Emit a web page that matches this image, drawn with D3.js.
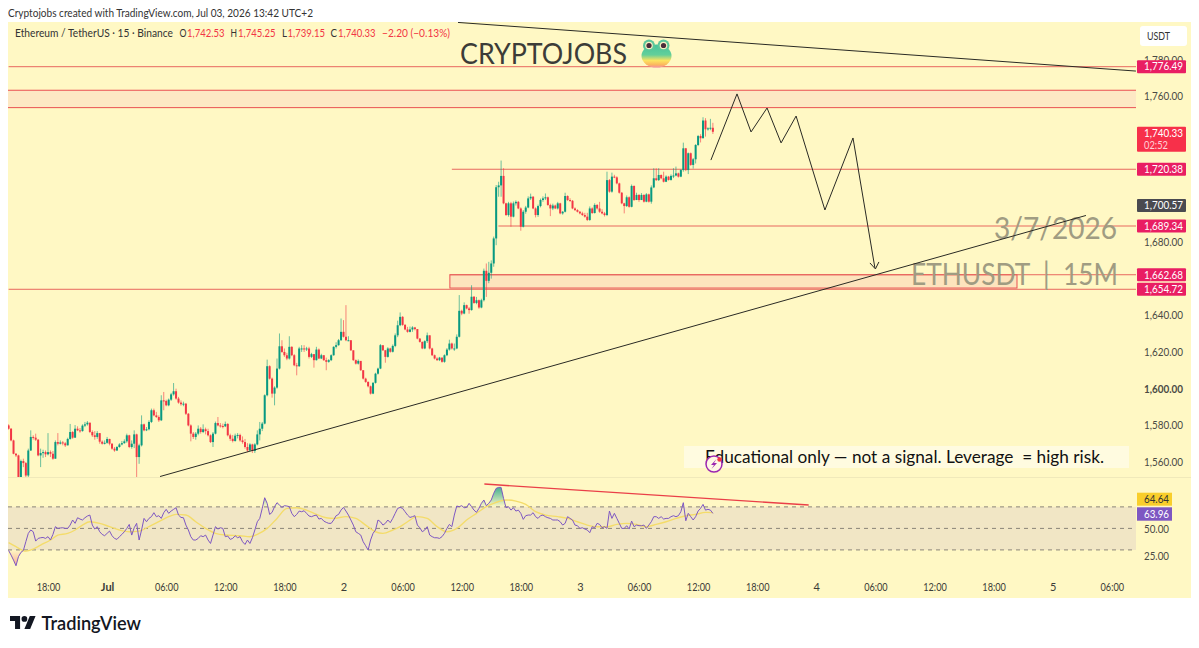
<!DOCTYPE html>
<html>
<head>
<meta charset="utf-8">
<style>
html,body{margin:0;padding:0;background:#fff;}
svg{display:block;}
text{font-family:Lato,"Open Sans",sans-serif;}
</style>
<script src="https://cdn.jsdelivr.net/npm/d3@7"></script>
</head>
<body>
<svg id="chart" width="1199" height="648"></svg>
<script>
// ETH/USDT 15-minute bars; each bar opens at the previous close.
const firstOpen = 1579.7;
const closes = [
1577.9,1571.5,1564.2,1563.3,1551.4,1560.2,1559.1,1552.3,1566,1573.4,
1573,1571.9,1563.3,1564.6,1565.1,1563.9,1565.1,1564.2,1561.5,1570.6,
1569.7,1570.4,1569.9,1568.8,1572.3,1576.1,1573,1577.9,1577,1576.6,
1579.6,1580.3,1581.2,1576.1,1574.3,1573.4,1575.5,1570.8,1569.7,1570.2,
1572.3,1569.7,1567,1566,1567.9,1569.3,1570,1571,1574.3,1567.9,
1569.7,1574.8,1562.4,1568.8,1580.3,1577,1577.6,1581.6,1588,1585.2,
1584.3,1582.5,1593.4,1593.1,1590.7,1593.8,1596.7,1598.4,1594.4,1592.2,
1591.3,1591.6,1586.1,1579.7,1575.2,1573.4,1575.2,1577.9,1576.1,1577.6,
1576.6,1574.3,1570.6,1575.2,1581,1579.7,1579.4,1579.2,1580.5,1574.3,
1572.4,1571.2,1574.1,1574.5,1571.5,1570.6,1567.9,1566,1569.3,1565.7,
1569.3,1574.8,1577.9,1580.7,1596.2,1612.1,1605.3,1597.1,1600.4,1610.8,
1623,1619.9,1618.1,1616.3,1622.7,1618.1,1612.6,1612.1,1621.8,1621.8,
1621.4,1621.8,1617.2,1618.7,1615.4,1621.2,1616.3,1618.1,1615.4,1614.5,
1615.4,1618.1,1622.7,1623.6,1626.3,1630.9,1628.2,1626.3,1626.3,1620.8,
1615.4,1613.5,1615,1609.9,1605.3,1603.5,1601.1,1597.1,1603,1608,
1610.8,1623.6,1620.8,1617.2,1621.8,1620,1623.2,1629,1634.5,1639.1,
1634.7,1632.2,1630.9,1632.2,1633.3,1632.4,1627.2,1625.4,1621.8,1625.8,
1629,1621.8,1618.1,1616.3,1615.4,1616.8,1614.5,1618.1,1621.2,1624.5,
1621.8,1621.8,1628.2,1642.4,1640.9,1645.5,1643.7,1642.8,1650.1,1646.7,
1648.2,1644.2,1648.2,1664.3,1658.8,1663.2,1668.3,1682,1710,1711,
1716.2,1701.2,1694.8,1701.2,1693.9,1701.2,1702,1698.4,1688.4,1696.6,
1698.9,1703.9,1704.8,1698.4,1694.8,1699.7,1703,1703.9,1704.5,1700.3,
1698.4,1700,1698.4,1701.2,1695.7,1696.6,1705.2,1703,1702.6,1698.4,
1697.5,1696.6,1695.7,1694.8,1693.9,1692.1,1698.4,1695.9,1700.3,1698.4,
1696.6,1695.7,1694.8,1713.9,1707.6,1715.8,1715.4,1712.1,1707,1701.2,
1699.7,1704.5,1699.3,1710.7,1703,1705.8,1703,1705.8,1702.1,1706.1,
1702.1,1709.9,1714.9,1713.9,1716.7,1714.9,1713,1715.8,1714,1716.2,
1716.4,1717.6,1715.8,1719.4,1731.3,1719.4,1728.6,1722.2,1725.3,1733.1,
1738,1736.8,1746.5,1741.7,1742.2,1742.53,1740.33];
const highs = [
1580.3,1578.3,1571.9,1564.6,1563.7,1561,1561.5,1559.7,1567,1577,
1574.3,1575.2,1572.3,1567,1566.4,1566,1575.5,1566,1565.7,1571.5,
1575.5,1571.5,1571.2,1570.6,1573,1580.5,1576.6,1579.9,1579.2,1578.3,
1580.3,1581.6,1582.1,1581.2,1577,1576.6,1576.6,1575.5,1571.5,1571.5,
1573.4,1572.4,1570,1567.9,1568.4,1570,1571.2,1572.1,1575.2,1574.6,
1571.5,1577,1575.2,1569.7,1585.2,1580.7,1578.8,1582.5,1588.9,1588.9,
1587.1,1585.2,1596.2,1598,1593.8,1594.4,1597.5,1602.9,1599.8,1595.3,
1593.4,1592.7,1592,1586.5,1580.3,1576.1,1576.1,1579.7,1578.8,1580.3,
1578.5,1577.9,1574.8,1576.1,1581.8,1584.3,1581,1580.7,1581.8,1581,
1575.2,1574.5,1575.2,1575.5,1575.2,1573.7,1572.3,1570,1570,1569.7,
1570,1577,1581.6,1581.6,1596.7,1615.7,1612.6,1605.9,1601.1,1616.3,
1630,1626.3,1621.8,1619.4,1628.5,1623,1618.7,1613.9,1622.7,1623.6,
1623.6,1622.7,1622.7,1619.4,1618.7,1622.7,1621.8,1618.9,1618.1,1616.8,
1616,1618.6,1623,1625.2,1627,1638.2,1637.3,1645.5,1628.5,1626.3,
1620.8,1615.8,1615.8,1614,1610,1605.8,1603.8,1601.5,1603.4,1608.5,
1611.3,1624.2,1623,1621,1622.5,1622.2,1624,1630,1637,1641.5,
1639.5,1635.2,1633.6,1633.8,1634,1633.6,1632.4,1627.5,1625.6,1626.3,
1630.5,1629,1622.2,1618.5,1617,1617.2,1616.8,1618.6,1622,1626.6,
1625,1624.5,1629.5,1651,1643,1647,1645.8,1644.5,1656.4,1650.5,
1650,1648.6,1649,1665.5,1668.3,1669.2,1670,1683,1711.2,1713,
1724.6,1720.4,1701.5,1702,1702,1702.2,1702.8,1702.5,1699,1697.5,
1699.8,1705,1706.5,1705.2,1699,1700.5,1703.8,1705,1706.6,1704.9,
1701,1701,1700.5,1702,1701.5,1697,1707,1705.6,1704,1703,
1699,1698,1697,1696.6,1696,1696,1699.5,1699,1701.2,1700.8,
1702,1698,1696.5,1718.5,1714.5,1718,1716.8,1716,1712.5,1707.4,
1701.5,1705.5,1705,1711.5,1711,1707,1706.2,1706.8,1706.1,1706.8,
1706.5,1711,1720.4,1720.4,1720.4,1717,1718.5,1716.5,1716.2,1717,
1720.4,1721.3,1718,1719.8,1734.4,1731.5,1729,1729,1726,1733.6,
1738.6,1739,1748.3,1747.8,1742.8,1747.4,1745.25];
const lows = [
1577.4,1571,1563.9,1562.4,1549.6,1550.5,1556.9,1549.6,1551.4,1565.7,
1571.9,1571.2,1562.8,1556.9,1562,1562.4,1563.3,1562.4,1560.9,1561.5,
1568.8,1569.3,1568.8,1567.9,1568.8,1571.9,1572.4,1573,1576.6,1575.7,
1576.3,1578.8,1579.6,1575.5,1573.4,1571.9,1572.4,1569.7,1569.2,1569.3,
1569.7,1568.8,1566.4,1565.3,1565.7,1567.5,1568.8,1569.7,1570.2,1567.3,
1567,1567.3,1551.1,1558.7,1568.2,1576.5,1576.6,1577,1581,1584.7,
1583.8,1581.6,1582.1,1588,1590.2,1590.2,1593.1,1596,1593.8,1591.6,
1590.5,1590.2,1585.4,1579.2,1571,1572.3,1571.9,1574.3,1575.2,1575.5,
1574.8,1573.7,1570.1,1567.9,1574.8,1579.2,1578.5,1578.1,1578.8,1573.7,
1571.2,1570.4,1570.8,1572.6,1570.8,1569.7,1567,1565.1,1565.7,1564.6,
1564.6,1568.8,1571.5,1576.6,1580.3,1595.6,1604.8,1594.9,1590.7,1599.8,
1610.3,1619.4,1617.2,1615.4,1615.7,1617.6,1612.1,1607.1,1611.7,1619.9,
1619.9,1620.4,1616.3,1616.6,1611.3,1615.2,1616,1616,1615,1609.9,
1614,1614.9,1617.8,1621.8,1623.3,1626,1627.8,1625.8,1625.8,1620.4,
1615,1613,1613,1609.5,1604.8,1603,1600.5,1596.6,1596.8,1602.6,
1607.5,1610.5,1620.4,1614,1616.8,1619.5,1619.6,1622.5,1628,1634,
1634.2,1631.8,1630.4,1630.6,1630.9,1631.7,1626.8,1625,1621.4,1621.4,
1624.8,1621.3,1617.7,1615.8,1615,1614.9,1614,1614,1617.6,1620.6,
1621.2,1620.5,1621.4,1627.8,1640,1640.5,1643.2,1640.8,1642.5,1646.2,
1646,1643.5,1643.8,1647.5,1650,1657.5,1660,1666.5,1678.3,1704.8,
1704.8,1700.7,1694.3,1693.9,1688.4,1693.5,1700,1698,1686.2,1688,
1695.5,1698.5,1703,1698,1693.5,1693.8,1699,1702,1703,1699.8,
1694.2,1697.5,1698,1697.8,1695.2,1695,1696.2,1702.5,1702,1698,
1697,1696.2,1695.2,1694.3,1693.4,1691.5,1691.6,1695.4,1695.6,1697.8,
1696,1695.2,1694,1694.2,1707,1707,1715,1711.6,1706.5,1700.7,
1695.7,1699.2,1698.8,1699,1702.5,1703,1702,1703,1701.6,1701.8,
1701.6,1701,1709.5,1713.4,1713.4,1714.4,1712.6,1712.8,1713.6,1713.6,
1715,1716,1715.3,1715.5,1718.5,1718.8,1717.2,1721.7,1720.2,1723,
1732.5,1734.5,1736.8,1737.7,1741,1741.2,1739.15];

// RSI (14) per bar
const rsi = [
29.5,25.2,20.5,15.3,23.7,27.7,29.5,37.6,45.4,48.5,
46.9,38.2,40.7,41.3,41.6,40.7,42.3,39.2,44.4,51.6,
50,50.4,50.6,50,50,53.1,57.8,54.7,59.9,58.7,
57.8,59.9,61.5,62.4,53.1,49.4,51.6,46.9,44.4,43.2,
45.4,47.5,43.2,40.7,39.8,42.3,44.4,46.9,50,53.7,
43.8,50.6,54.7,39.2,48.5,59.3,56.2,59.3,60.9,64.6,
60.9,61.8,59.3,64.6,67.7,64,66.1,67.7,69.2,62.4,
60.2,59.9,53.1,48.5,42.3,39.2,39.2,40.7,43.2,42.3,
43.8,39.2,36,43.8,51.6,49.4,50.6,50,42.3,42.9,
39.8,40.7,43.2,41.3,42.3,37.6,35.1,39.2,36,41.3,
48.5,56.2,59.3,68.6,78.5,73.3,63,64.9,70.2,73.9,
71.7,69.5,71.1,70.8,70.2,64,60.9,63,66.1,65.5,
66.4,64,61.5,60.9,61.8,62.4,58.7,59.3,56.8,55.6,
54.7,54.7,57.8,61.8,63,67,69.5,66.1,62.4,57.8,
53.1,46.9,45.4,43.8,37.6,33.9,29.9,39.2,45.4,48.5,
57.8,56.2,53.1,54.7,57.8,55.3,59.3,64,68.6,
69.5,68.6,65.5,62.4,60.2,60.9,61.8,53.1,50.6,46.9,
48.5,51.6,43.8,42.3,41.3,41.3,40.7,42.3,45.4,50,
53.7,51.6,62.4,70.8,70.2,71.1,69.2,69.5,73.3,70.2,
67,64.9,68.6,73.3,76.4,71.1,73.3,76.4,82.6,87.2,
88.1,88.1,77.9,69.2,70.2,67,69.2,66.1,67,64,
58.4,61.8,62.4,62.4,64.6,60.9,59.3,61.8,62.4,60.9,
59.9,59.3,57.8,57.8,57.8,56.2,53.1,54.7,60.9,59.3,
57.8,53.1,52.5,50,50.6,49.4,48.5,46,51.6,50.6,
54.7,53.7,50.6,51.6,50,66.1,59.3,64,59.3,54.7,
50,50,52.5,49.4,56.8,51.6,53.1,52.5,52.5,53.1,
50,53.1,56.2,60.9,60.9,59.3,60.9,58.7,59.3,59.3,
60.9,61.8,60.9,61.8,65.5,73.9,57.1,64,60.9,57.8,
60.9,66.1,68.6,72.3,67,67.7,67,63.96];

// RSI moving average, sampled at these bars
const rsiMaBars = [0,3,7,10,13,17,20,24,27,30,33,37,41,45,49,53,57,61,65,68,72,76,80,84,88,94,98,101,105,109,113,117,121,125,129,132,137,141,145,149,152,156,159,162,166,170,174,178,182,186,190,194,198,202,206,210,214,218,223,227,231,235,239,243,247,251,255,259,263,267,271,275,279,283,286];
const rsiMa = [36.7,33,28.9,30.8,34.5,39.2,43.8,45.4,48.5,53.1,56.2,54.7,51.6,48.5,46.9,47.5,51.6,56.2,60.9,63,62.4,56.2,50,45.4,43.8,43.2,42.3,44.4,50,59.3,68.6,69.2,67,63,59.9,59.3,60.9,59.3,53.1,46.9,45.4,48.5,51.6,56.2,60.9,59.3,51.6,46.9,50,57.8,64,70.2,74.2,76.4,75.4,72.3,65.5,62.4,60.9,59.3,56.2,53.1,51.6,51.6,53.7,54.7,53.7,51.6,53.7,56.2,59.3,61.8,63,64.9,64.64];

// Axis contents: a time label every 24 bars, starting at bar 16
const timeLabels = ["18:00","Jul","06:00","12:00","18:00","2","06:00","12:00","18:00","3","06:00","12:00","18:00","4","06:00","12:00","18:00","5","06:00"];
const timeTickBars = timeLabels.map((_, k) => 16 + 24 * k);
const priceTicks = [1780,1760,1680,1640,1620,1600,1580,1560];
const rsiTicks = [50,25];

// Legend contents
const legendKeys = ["O","H","L","C"];
const legendValues = ["1,742.53","1,745.25","1,739.15","1,740.33"];
const legendKeyX = [179.5,230.5,282,330.5];
const legendKeyW = [7,6.5,5,6.5];
const legendValueX = [187,238,287.5,338];

// Price-level annotations
const levelPrices = [1776.49,1720.38,1689.34,1662.68,1654.72];
const levelStartBars = [0,180,198.9,179.2,0];
const zoneTop = 1763.6, zoneBottom = 1754.1;
const boxTop = 1662.68, boxBottom = 1655.4, boxStartBar = 179.2, boxEndBar = 409.5;
const currentPrice = 1740.33, countdown = "02:52", darkPrice = 1700.57;
const rsiLastValue = 63.96, rsiLastMa = 64.64;

// Hand-drawn lines, as [bar, price] pairs
const projBars   = [285.2,295.8,301.5,308,313.7,319.8,331.5,342.9,351.8];
const projPrices = [1725.4,1761.6,1740.8,1753.9,1734.8,1749.5,1698.1,1737.5,1666.4];
const resistanceBars = [182.5,457.8], resistancePrices = [1800.7,1774.1];
const supportBars = [61.5,437.5], supportPrices = [1552.3,1695.1];
const rsiDivBars = [193.2,324.9], rsiDivValues = [91.2,71.7];

const UP = "#089981", DOWN = "#f23645", PINK = "#e91e63", PANEL = "#fff8c4";
const plot = {l: 8, r: 1136, t: 22, mainB: 477, rsiB: 574};

const svg = d3.select("#chart");
const fmt = d3.format(",.2f");
const x = d3.scaleLinear().domain([0, 100]).range([8.6, 8.6 + 246.25]);
const y = d3.scaleLinear().domain([1560, 1760]).range([462.44, 96.84]);
const yRsi = d3.scaleLinear().domain([25, 50]).range([555.3, 528.4]);

const defs = svg.append("defs");
defs.append("clipPath").attr("id", "mainClip").append("rect")
  .attr("x", plot.l).attr("y", plot.t).attr("width", plot.r - plot.l).attr("height", plot.mainB - plot.t);
defs.append("clipPath").attr("id", "rsiClip").append("rect")
  .attr("x", plot.l).attr("y", plot.mainB).attr("width", plot.r - plot.l).attr("height", plot.rsiB - plot.mainB);
defs.append("clipPath").attr("id", "overClip").append("rect")
  .attr("x", plot.l).attr("y", plot.mainB).attr("width", plot.r - plot.l).attr("height", yRsi(70) - plot.mainB);
defs.append("clipPath").attr("id", "underClip").append("rect")
  .attr("x", plot.l).attr("y", yRsi(30)).attr("width", plot.r - plot.l).attr("height", plot.rsiB - yRsi(30));
const gOver = defs.append("linearGradient").attr("id", "overFill").attr("gradientUnits", "userSpaceOnUse")
  .attr("x1", 0).attr("x2", 0).attr("y1", yRsi(88)).attr("y2", yRsi(70));
gOver.append("stop").attr("offset", "0%").attr("stop-color", "#089981").attr("stop-opacity", 0.75);
gOver.append("stop").attr("offset", "100%").attr("stop-color", "#089981").attr("stop-opacity", 0);
const gUnder = defs.append("linearGradient").attr("id", "underFill").attr("gradientUnits", "userSpaceOnUse")
  .attr("x1", 0).attr("x2", 0).attr("y1", yRsi(30)).attr("y2", yRsi(15));
gUnder.append("stop").attr("offset", "0%").attr("stop-color", "#f23645").attr("stop-opacity", 0);
gUnder.append("stop").attr("offset", "100%").attr("stop-color", "#f23645").attr("stop-opacity", 0.4);
const gFrog = defs.append("linearGradient").attr("id", "frogFill").attr("x1", 0).attr("x2", 0).attr("y1", 0).attr("y2", 1);
[["0%", "#45c49c"], ["45%", "#63cf9a"], ["70%", "#fde35e"], ["88%", "#fbb65f"], ["100%", "#f58fa0"]]
  .forEach(([o, c]) => gFrog.append("stop").attr("offset", o).attr("stop-color", c));

// Squeezes a label into the width its slot allows
const fit = (sel, w) => sel.attr("textLength", w).attr("lengthAdjust", "spacingAndGlyphs");

// Page and panel
svg.append("rect").attr("width", 1199).attr("height", 648).attr("fill", "#fff");
svg.append("rect").attr("x", 8).attr("y", 22).attr("width", 1183).attr("height", 576).attr("fill", PANEL);
fit(svg.append("text").attr("x", 8).attr("y", 17).attr("font-size", 11.5).attr("fill", "#333")
  .text("Cryptojobs created with TradingView.com, Jul 03, 2026 13:42 UTC+2"), 305);
svg.append("line").attr("x1", 8).attr("x2", 1191).attr("y1", 477.5).attr("y2", 477.5).attr("stroke", "#f0e9ba");

// Main pane
const main = svg.append("g").attr("clip-path", "url(#mainClip)");

main.append("rect").attr("x", plot.l).attr("width", plot.r - plot.l)
  .attr("y", y(zoneTop)).attr("height", y(zoneBottom) - y(zoneTop))
  .attr("fill", "#fde8c4");
main.selectAll("line.zone").data([zoneTop, zoneBottom]).join("line").attr("class", "zone")
  .attr("x1", plot.l).attr("x2", plot.r).attr("y1", d => y(d)).attr("y2", d => y(d))
  .attr("stroke", "#ea4f52").attr("stroke-width", 1);

main.append("rect").attr("x", x(boxStartBar)).attr("width", x(boxEndBar) - x(boxStartBar))
  .attr("y", y(boxTop)).attr("height", y(boxBottom) - y(boxTop))
  .attr("fill", "#fde4bd").attr("stroke", "#ea4f52").attr("stroke-width", 1);

main.selectAll("line.level").data(levelPrices).join("line").attr("class", "level")
  .attr("x1", (d, i) => x(levelStartBars[i])).attr("x2", plot.r)
  .attr("y1", d => y(d)).attr("y2", d => y(d))
  .attr("stroke", "#e8685f").attr("stroke-width", 1);

// Watermark text
fit(main.append("text").attr("x", 994).attr("y", 238.5)
  .attr("font-size", 31).attr("fill", "#a09c82").text("3/7/2026"), 123);
fit(main.append("text").attr("x", 911).attr("y", 284.5).attr("font-size", 31).attr("fill", "#a09c82")
  .attr("xml:space", "preserve").style("white-space", "pre").text("ETHUSDT  |  15M"), 207);

// Candles
const bars = closes.map((c, i) => ({i, o: i ? closes[i - 1] : firstOpen, c, h: highs[i], l: lows[i]}));
const candle = main.append("g").attr("transform", "translate(0,-1)")
  .selectAll("g.bar").data(bars).join("g").attr("class", "bar");
candle.append("line")
  .attr("x1", d => x(d.i)).attr("x2", d => x(d.i))
  .attr("y1", d => y(d.h)).attr("y2", d => y(d.l))
  .attr("stroke", d => d.c >= d.o ? UP : DOWN).attr("stroke-width", 0.8).attr("stroke-opacity", 0.75);
candle.append("rect")
  .attr("x", d => x(d.i) - 1).attr("width", 2)
  .attr("y", d => y(Math.max(d.o, d.c)))
  .attr("height", d => Math.max(1, Math.abs(y(d.o) - y(d.c))))
  .attr("fill", d => d.c >= d.o ? UP : DOWN);

// Trend lines and the projected route
const priceLine = d3.line().x(d => x(d[0])).y(d => y(d[1]));
const pairs = (a, b) => a.map((v, i) => [v, b[i]]);
[pairs(resistanceBars, resistancePrices), pairs(supportBars, supportPrices), pairs(projBars, projPrices)]
  .forEach(p => main.append("path").attr("d", priceLine(p)).attr("fill", "none")
    .attr("stroke", "#2a2a24").attr("stroke-width", 1));

const tipX = x(projBars[projBars.length - 1]), tipY = y(projPrices[projPrices.length - 1]);
main.append("path").attr("d", `M${tipX - 5},${tipY - 5}L${tipX + 0.5},${tipY + 1}L${tipX + 4},${tipY - 6}`)
  .attr("fill", "none").attr("stroke", "#2a2a24").attr("stroke-width", 1);

// Title with frog
fit(svg.append("text").attr("x", 460).attr("y", 64).attr("font-size", 29).attr("fill", "#3c3c38").text("CRYPTOJOBS"), 167);
const frog = svg.append("g");
frog.append("ellipse").attr("cx", 656.5).attr("cy", 56).attr("rx", 15).attr("ry", 11.5).attr("fill", "url(#frogFill)");
[649, 663.5].forEach(cx => {
  frog.append("circle").attr("cx", cx).attr("cy", 45.5).attr("r", 6).attr("fill", "#5cc79a");
  frog.append("circle").attr("cx", cx).attr("cy", 45.5).attr("r", 3.8).attr("fill", "#f6eec0");
  frog.append("circle").attr("cx", cx).attr("cy", 45.5).attr("r", 2.6).attr("fill", "#4a2c3a");
});

// Legend
const legendText = (lx, str, col, w) => fit(svg.append("text").attr("x", lx).attr("y", 37).attr("font-size", 11.5).attr("fill", col).text(str), w);
legendText(15, "Ethereum / TetherUS · 15 · Binance", "#333", 158);
legendKeys.forEach((k, i) => {
  legendText(legendKeyX[i], k, "#333", legendKeyW[i]);
  legendText(legendValueX[i], legendValues[i], DOWN, 37.5);
});
legendText(382, "−2.20 (−0.13%)", DOWN, 68);

// Price axis
const priceAxis = svg.append("g").attr("transform", "translate(1144,-0.8)")
  .call(d3.axisRight(y).tickValues(priceTicks).tickFormat(fmt).tickSize(0).tickPadding(0));
priceAxis.select(".domain").remove();
fit(priceAxis.selectAll("text").attr("font-family", "Lato,sans-serif").attr("font-size", 11)
  .attr("fill", "#4a4a44").attr("font-weight", d => d === 1600 ? 700 : 400), 39);

svg.append("rect").attr("x", 1140).attr("y", 26).attr("width", 47).attr("height", 20).attr("rx", 3).attr("fill", "#fff");
fit(svg.append("text").attr("x", 1147).attr("y", 40).attr("font-size", 11).attr("fill", "#333").text("USDT"), 23);

// Price tags on the axis
const tag = (cy, h, fill) => svg.append("rect").attr("x", 1137).attr("y", cy - h / 2).attr("width", 49).attr("height", h).attr("rx", 1).attr("fill", fill);
const tagText = (cy, str, col, w) => fit(svg.append("text").attr("x", 1144).attr("y", cy + 3.8).attr("font-size", 11).attr("fill", col).text(str), w || 39);
levelPrices.forEach(p => {
  tag(y(p), 13, PINK);
  tagText(y(p), fmt(p), "#fff");
});
tag(y(darkPrice), 13, "#4a4a50");
tagText(y(darkPrice), fmt(darkPrice), "#fff");
svg.append("rect").attr("x", 1137).attr("y", y(currentPrice) - 6).attr("width", 49).attr("height", 25).attr("rx", 1).attr("fill", "#f7304a");
tagText(y(currentPrice) + 0.2, fmt(currentPrice), "#fff");
tagText(y(currentPrice) + 12.2, countdown, "#ffd0d6", 24);

// RSI pane
const rsiPane = svg.append("g").attr("clip-path", "url(#rsiClip)");
rsiPane.append("rect").attr("x", plot.l).attr("width", plot.r - plot.l)
  .attr("y", yRsi(70)).attr("height", yRsi(30) - yRsi(70)).attr("fill", "#f1e6c5");
rsiPane.selectAll("line.guide").data([70, 50, 30]).join("line").attr("class", "guide")
  .attr("x1", plot.l).attr("x2", plot.r).attr("y1", d => yRsi(d)).attr("y2", d => yRsi(d))
  .attr("stroke", "#8a8578").attr("stroke-width", 1).attr("stroke-dasharray", "4,4");

rsiPane.append("path").attr("clip-path", "url(#overClip)")
  .attr("d", d3.area().x((d, i) => x(i)).y0(yRsi(70)).y1(d => yRsi(d))(rsi)).attr("fill", "url(#overFill)");
rsiPane.append("path").attr("clip-path", "url(#underClip)")
  .attr("d", d3.area().x((d, i) => x(i)).y0(yRsi(30)).y1(d => yRsi(d))(rsi)).attr("fill", "url(#underFill)");

rsiPane.append("path")
  .attr("d", d3.line().x((d, i) => x(rsiMaBars[i])).y(d => yRsi(d)).curve(d3.curveMonotoneX)(rsiMa))
  .attr("fill", "none").attr("stroke", "#f4dc6a").attr("stroke-width", 1.4);
rsiPane.append("path")
  .attr("d", d3.line().x((d, i) => x(i)).y(d => yRsi(d))(rsi))
  .attr("fill", "none").attr("stroke", "#7e57c2").attr("stroke-width", 1);
rsiPane.append("path")
  .attr("d", d3.line().x(d => x(d[0])).y(d => yRsi(d[1]))(pairs(rsiDivBars, rsiDivValues)))
  .attr("fill", "none").attr("stroke", "#ea3f48").attr("stroke-width", 1.4);

const rsiAxis = svg.append("g").attr("transform", "translate(1144,0.6)")
  .call(d3.axisRight(yRsi).tickValues(rsiTicks).tickFormat(d3.format(".2f")).tickSize(0).tickPadding(0));
rsiAxis.select(".domain").remove();
fit(rsiAxis.selectAll("text").attr("font-family", "Lato,sans-serif").attr("font-size", 11).attr("fill", "#4a4a44"), 25);

svg.append("rect").attr("x", 1137).attr("y", 492.7).attr("width", 35).attr("height", 13).attr("fill", "#f9ce2b");
fit(svg.append("text").attr("x", 1144).attr("y", 503).attr("font-size", 11).attr("fill", "#333").text(d3.format(".2f")(rsiLastMa)), 25);
svg.append("rect").attr("x", 1137).attr("y", 507.3).attr("width", 35).attr("height", 13.4).attr("fill", "#7e57c2");
fit(svg.append("text").attr("x", 1144).attr("y", 517.8).attr("font-size", 11).attr("fill", "#fff").text(d3.format(".2f")(rsiLastValue)), 25);

// Time axis
const timeAxis = svg.append("g").attr("transform", "translate(0,583.5)")
  .call(d3.axisBottom(x).tickValues(timeTickBars).tickFormat((d, i) => timeLabels[i]).tickSize(0).tickPadding(0));
timeAxis.select(".domain").remove();
timeAxis.selectAll("text").attr("font-family", "Lato,sans-serif").attr("font-size", 11).attr("fill", "#3c3c38")
  .attr("font-weight", (d, i) => timeLabels[i] === "Jul" ? 700 : 400);
fit(timeAxis.selectAll("text").filter((d, i) => timeLabels[i].length === 5), 23.5);

// Disclaimer strip
svg.append("rect").attr("x", 684).attr("y", 446).attr("width", 445).attr("height", 22).attr("fill", "#fffbe0");
fit(svg.append("text").attr("x", 705).attr("y", 462.5).attr("font-size", 17).attr("fill", "#111")
  .attr("xml:space", "preserve").style("white-space", "pre")
  .text("Educational only — not a signal. Leverage  = high risk."), 399);

// Alert badge
const badge = svg.append("g");
badge.append("circle").attr("cx", 714).attr("cy", 464).attr("r", 8).attr("fill", "#fff8e4").attr("stroke", "#9c27b0").attr("stroke-width", 1.5);
badge.append("path").attr("d", "M716.5,459L711,465H714L711.5,469L717,463H714Z").attr("fill", "#9c27b0");
badge.append("circle").attr("cx", 719.5).attr("cy", 459.5).attr("r", 2.2).attr("fill", "#f23645");

// TradingView mark
const logo = svg.append("g").attr("transform", "translate(10,613.2) scale(0.72)").attr("fill", "#131722");
logo.append("path").attr("d", "M14 22H7V11H0V4h14v18zM28 22h-8l7.5-18h8L28 22z");
logo.append("circle").attr("cx", 20).attr("cy", 8).attr("r", 4);
svg.append("text").attr("x", 41.5).attr("y", 630).attr("font-family", "Inter,sans-serif").attr("font-size", 18.2)
  .attr("font-weight", 600).attr("fill", "#131722").text("TradingView");
</script>
</body>
</html>
